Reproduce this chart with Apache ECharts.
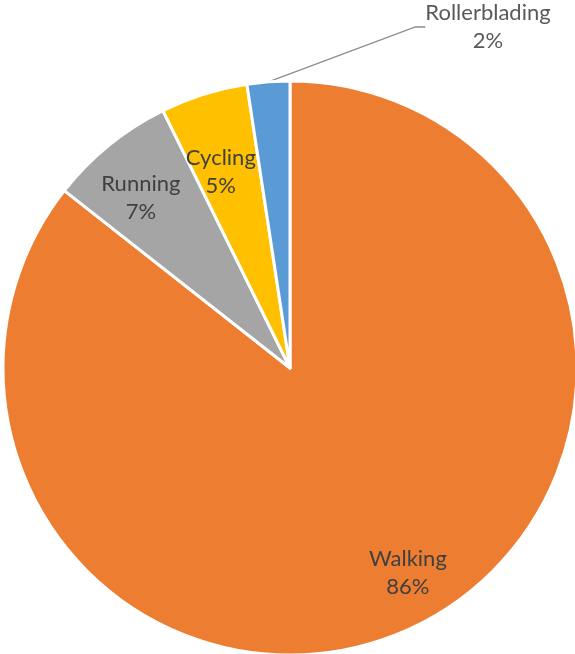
<!DOCTYPE html>
<html><head><meta charset="utf-8">
<script src="https://cdn.jsdelivr.net/npm/echarts@6/dist/echarts.min.js"></script>
<style>html,body{margin:0;padding:0;background:#fff}#c{width:575px;height:654px}</style>
</head><body><div id="c"></div>
<script>
const categories = ['Walking', 'Running', 'Cycling', 'Rollerblading'];
const values = [85.6, 7.1, 4.9, 2.4];
const colors = ['#ED7D31', '#A5A5A5', '#FFC000', '#5B9BD5'];

const chart = echarts.init(document.getElementById('c'));
const font = 'Lato, "Open Sans", sans-serif';
const fmt = p => p.name + '\n' + Math.round(p.percent) + '%';
const center = [290, 368];
const R = 287;

const mainData = categories.map((n, i) => ({
  name: n, value: values[i], itemStyle: { color: colors[i] },
  label: i === 3 ? { show: true } : { show: false },
  labelLine: i === 3 ? { show: true } : { show: false }
}));
const overlayData = categories.map((n, i) => ({
  name: n, value: values[i],
  label: { show: i !== 3 }
}));
const nudges = [{ dx: 20, dy: 3 }, { dx: -8, dy: 4 }, { dx: -2, dy: 18 }, {}];

chart.setOption({
  animation: false,
  series: [
    {
      type: 'pie', center: center, radius: [0, R], startAngle: 90, clockwise: true,
      silent: true,
      itemStyle: { borderColor: '#fff', borderWidth: 3 },
      label: { position: 'outside', formatter: fmt, color: '#595959', fontSize: 22, fontFamily: font, lineHeight: 28, align: 'center' },
      labelLine: { lineStyle: { color: '#8c8c8c', width: 1.3 }, length: 20, length2: 10 },
      labelLayout: p => p.dataIndex === 3 ? { x: 488, y: 27, align: 'center', verticalAlign: 'middle' } : {},
      data: mainData
    },
    {
      type: 'pie', center: center, radius: [R * 0.54, R], startAngle: 90, clockwise: true,
      silent: true,
      itemStyle: { color: 'rgba(0,0,0,0)', borderWidth: 0 },
      label: { position: 'inside', formatter: fmt, color: '#404040', fontSize: 22, fontFamily: font, lineHeight: 28 },
      labelLine: { show: false },
      labelLayout: p => nudges[p.dataIndex],
      data: overlayData
    }
  ]
});
</script></body></html>
